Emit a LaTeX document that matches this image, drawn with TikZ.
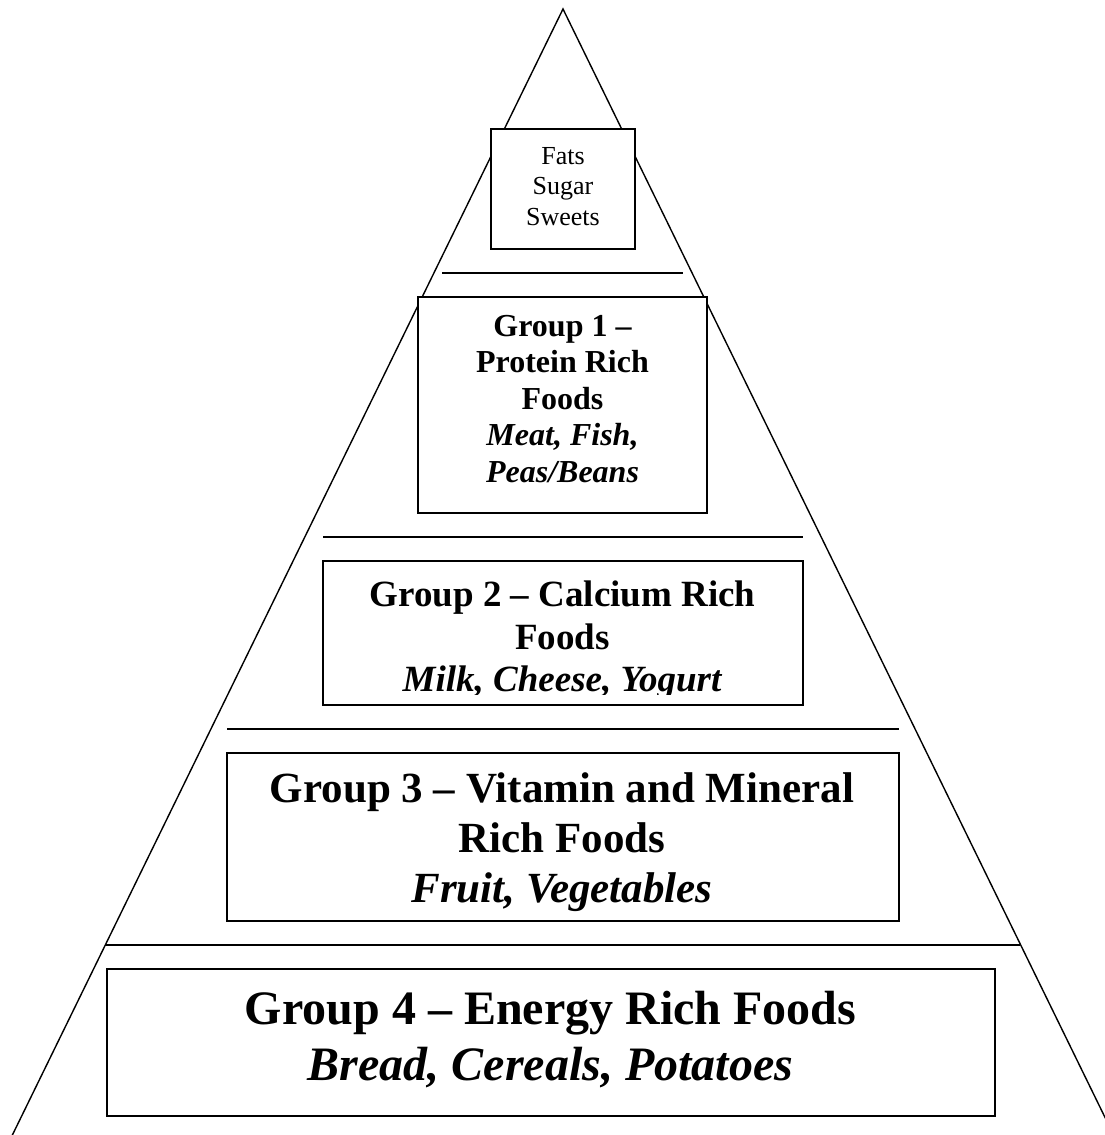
\documentclass[tikz,border=0pt]{standalone}
\usepackage{fontspec}
\setmainfont{Liberation Serif}
\tikzset{
  frame-line/.style={
    line width=1.4pt,
    line cap=butt,
    line join=miter
  },
  level-box/.style={
    frame-line,
    draw=black,
    fill=white,
    inner sep=0pt
  },
  divider/.style={frame-line},
  level-text/.style={align=center, inner sep=0pt, anchor=north}
}
\newcommand{\pageframe}{
  \useasboundingbox (0,0) rectangle (1105,1135);
  \clip (0,0) rectangle (1105,1135);
}

\begin{document}
\begin{tikzpicture}[x=1pt, y=-1pt]
  \pageframe

  % 1. The pyramid (its feet run off the page)
  \coordinate (apex) at (563,9);
  \draw[frame-line] (7.5,1145) -- (apex) -- (1118.5,1145);

  % 2. Dividers between the levels
  \draw[divider] (442,273) -- (683,273);
  \draw[divider] (323,537) -- (803,537);
  \draw[divider] (227,729) -- (899,729);
  \draw[divider] (105,945) -- (1020,945);

  % 3. The level boxes (white, so they hide the pyramid sides)
  \node[level-box, minimum width=144pt, minimum height=120pt] (box-fats) at (563,189) {};
  \node[level-box, minimum width=289pt, minimum height=216pt] (box-protein) at (562.5,405) {};
  \node[level-box, minimum width=480pt, minimum height=144pt] (box-calcium) at (563,633) {};
  \node[level-box, minimum width=672pt, minimum height=168pt] (box-vitamin) at (563,837) {};
  \node[level-box, minimum width=888pt, minimum height=147pt] (box-energy) at (551,1042.5) {};

  % 4. The texts
  \node[level-text, font=\fontsize{26}{30.5}\selectfont] (txt-fats) at (563,147)
    {Fats\\Sugar\\Sweets};
  \node[level-text, font=\fontsize{32}{36.5}\selectfont\bfseries] (txt-protein) at (562.5,315)
    {Group 1 --\\Protein Rich\\Foods\\\textit{Meat, Fish,}\\\textit{Peas/Beans}};
  % bottom line is cut off by the box margin
  \begin{scope}
    \clip (323,561) rectangle (803,694);
    \node[level-text, font=\fontsize{37}{42.5}\selectfont\bfseries] (txt-calcium) at (562.5,581)
      {Group 2 -- Calcium Rich\\Foods\\\textit{Milk, Cheese, Yogurt}};
  \end{scope}
  \node[level-text, font=\fontsize{43}{50}\selectfont\bfseries] (txt-vitamin) at (562,772)
    {Group 3 -- Vitamin and Mineral\\Rich Foods\\\textit{Fruit, Vegetables}};
  \node[level-text, font=\fontsize{48}{56}\selectfont\bfseries] (txt-energy) at (550.5,991)
    {Group 4 -- Energy Rich Foods\\\textit{Bread, Cereals, Potatoes}};

\end{tikzpicture}
\end{document}
